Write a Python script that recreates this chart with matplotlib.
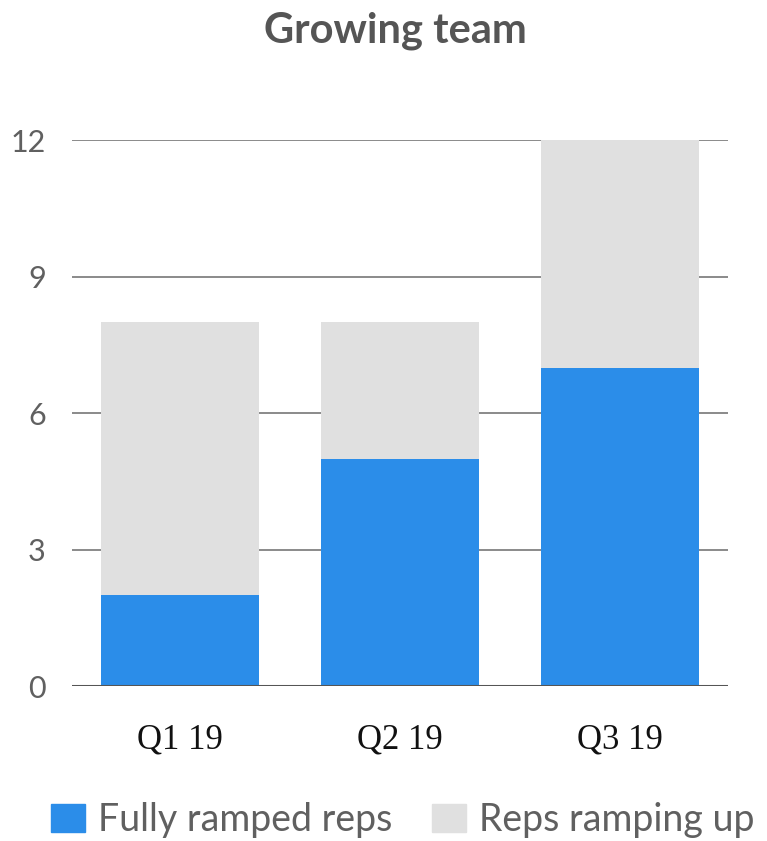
import matplotlib
matplotlib.use("Agg")
import matplotlib.pyplot as plt
from matplotlib.patches import Patch

quarters = ["Q1 19", "Q2 19", "Q3 19"]
fully_ramped = [2, 5, 7]
ramping_up = [6, 3, 5]
y_ticks = [0, 3, 6, 9, 12]

blue = "#2b8de9"
light = "#e0e0e0"
text_grey = "#606060"

fig = plt.figure(figsize=(7.67, 8.41), dpi=100)
ax = fig.add_axes([0.094, 0.1843, 0.855, 0.6492])

x = range(len(quarters))
ax.bar(x, fully_ramped, width=0.715, color=blue, zorder=3)
ax.bar(x, ramping_up, width=0.715, bottom=fully_ramped, color=light, zorder=3)

ax.set_xlim(-0.49, 2.49)
ax.set_ylim(0, 12)
ax.set_yticks(y_ticks)
ax.set_yticklabels([str(v) for v in y_ticks], fontsize=22, color=text_grey, family="Lato")
ax.set_xticks(list(x))
ax.set_xticklabels(quarters, fontsize=25, color="#111111", family="Liberation Serif")
ax.tick_params(axis="y", length=0, pad=19)
ax.tick_params(axis="x", length=0, pad=27)

for v in y_ticks[1:]:
    ax.axhline(v, color="#8a8a8a", lw=1.4, zorder=1)
ax.axhline(0, color="#555555", lw=2.2, zorder=4)

for s in ax.spines.values():
    s.set_visible(False)

fig.text(0.516, 0.950, "Growing team", fontsize=30, fontweight="bold",
         color="#555555", family="Lato", ha="center", va="baseline")

handles = [Patch(color=blue, label="Fully ramped reps"),
           Patch(color=light, label="Reps ramping up")]
fig.legend(handles=handles, loc="center", bbox_to_anchor=(0.525, 0.025), ncol=2,
           frameon=False, prop={"family": "Lato", "size": 27},
           labelcolor=text_grey, handlelength=0.9, handleheight=0.8,
           handletextpad=0.35, columnspacing=1.05, borderpad=0, borderaxespad=0)

fig.savefig("out.png", dpi=100)
